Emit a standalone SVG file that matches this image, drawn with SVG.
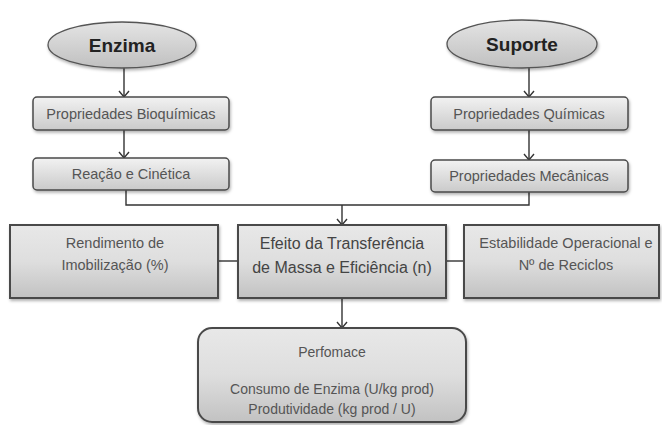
<svg xmlns="http://www.w3.org/2000/svg" width="662" height="425" viewBox="0 0 662 425">
<defs>
<linearGradient id="gBox" x1="0" y1="0" x2="0" y2="1">
<stop offset="0" stop-color="#f2f2f2"/>
<stop offset="1" stop-color="#cacaca"/>
</linearGradient>
<linearGradient id="gBig" x1="0" y1="0" x2="0" y2="1">
<stop offset="0" stop-color="#e8e8e8"/>
<stop offset="0.5" stop-color="#dedede"/>
<stop offset="1" stop-color="#c2c2c2"/>
</linearGradient>
<linearGradient id="gEll" x1="0" y1="0" x2="0" y2="1">
<stop offset="0" stop-color="#e4e4e4"/>
<stop offset="1" stop-color="#c0c0c0"/>
</linearGradient>
<filter id="sh" x="-10%" y="-10%" width="125%" height="135%">
<feDropShadow dx="1" dy="2" stdDeviation="1.5" flood-color="#000" flood-opacity="0.3"/>
</filter>
<marker id="arr" markerWidth="12" markerHeight="12" refX="10" refY="6" orient="auto" markerUnits="userSpaceOnUse">
<path d="M4,1 L10,6 L4,11" fill="none" stroke="#333" stroke-width="1.4"/>
</marker>
</defs>
<style>
.box{fill:url(#gBox);stroke:#4a4a4a;stroke-width:1.5;filter:url(#sh)}
.big{fill:url(#gBig);stroke:#4a4a4a;stroke-width:2;filter:url(#sh)}
.ell{fill:url(#gEll);stroke:#555;stroke-width:1.3;filter:url(#sh)}
.t{font-family:"Liberation Sans",Arial,sans-serif;font-size:14.5px;fill:#555;text-anchor:middle}
.tp{font-family:"Liberation Sans",Arial,sans-serif;font-size:14px;fill:#555;text-anchor:middle}
.tb{font-family:"Liberation Sans",Arial,sans-serif;font-size:16px;fill:#444;text-anchor:middle}
.te{font-family:"Liberation Sans",Arial,sans-serif;font-size:19px;font-weight:bold;fill:#222;text-anchor:middle}
.c{fill:none;stroke:#333;stroke-width:1.4}
</style>
<g id="connectors">
<line class="c" x1="124" y1="68" x2="124" y2="97" marker-end="url(#arr)"/>
<line class="c" x1="124" y1="130" x2="124" y2="158" marker-end="url(#arr)"/>
<line class="c" x1="529" y1="68" x2="529" y2="97" marker-end="url(#arr)"/>
<line class="c" x1="529" y1="130" x2="529" y2="160" marker-end="url(#arr)"/>
<polyline class="c" points="126,190 126,205 529,205 529,192"/>
<line class="c" x1="342" y1="205" x2="342" y2="225" marker-end="url(#arr)"/>
<line class="c" x1="218" y1="261" x2="238" y2="261"/>
<line class="c" x1="446" y1="261" x2="464" y2="261"/>
<line class="c" x1="342" y1="298" x2="342" y2="328" marker-end="url(#arr)"/>
</g>
<g id="enzima">
<ellipse class="ell" cx="122" cy="45" rx="74" ry="23"/>
<text class="te" x="122" y="52">Enzima</text>
</g>
<g id="suporte">
<ellipse class="ell" cx="522" cy="44" rx="75" ry="24"/>
<text class="te" x="522" y="51">Suporte</text>
</g>
<g id="prop-bioquimicas">
<rect class="box" x="33" y="97" width="196" height="33" rx="4"/>
<text class="t" x="131" y="119">Propriedades Bioquímicas</text>
</g>
<g id="reacao-cinetica">
<rect class="box" x="33" y="158" width="196" height="32" rx="4"/>
<text class="t" x="131" y="179">Reação e Cinética</text>
</g>
<g id="prop-quimicas">
<rect class="box" x="431" y="97" width="197" height="33" rx="4"/>
<text class="t" x="529" y="119">Propriedades Químicas</text>
</g>
<g id="prop-mecanicas">
<rect class="box" x="431" y="160" width="197" height="32" rx="4"/>
<text class="t" x="529" y="181">Propriedades Mecânicas</text>
</g>
<g id="rendimento">
<rect class="big" x="10" y="225" width="208" height="73"/>
<text class="t" x="115" y="248">Rendimento de</text>
<text class="t" x="115" y="270">Imobilização (%)</text>
</g>
<g id="efeito">
<rect class="big" x="238" y="225" width="208" height="73"/>
<text class="tb" x="342" y="249">Efeito da Transferência</text>
<text class="tb" x="342" y="273">de Massa e Eficiência (n)</text>
</g>
<g id="estabilidade">
<rect class="big" x="464" y="225" width="195" height="73"/>
<text class="t" x="566" y="248">Estabilidade Operacional e</text>
<text class="t" x="566" y="270">Nº de Reciclos</text>
</g>
<g id="performance">
<rect class="big" x="198" y="328" width="268" height="94" rx="14"/>
<text class="tp" x="332" y="357">Perfomace</text>
<text class="tp" x="332" y="394">Consumo de Enzima (U/kg prod)</text>
<text class="tp" x="332" y="414">Produtividade (kg prod / U)</text>
</g>
</svg>
